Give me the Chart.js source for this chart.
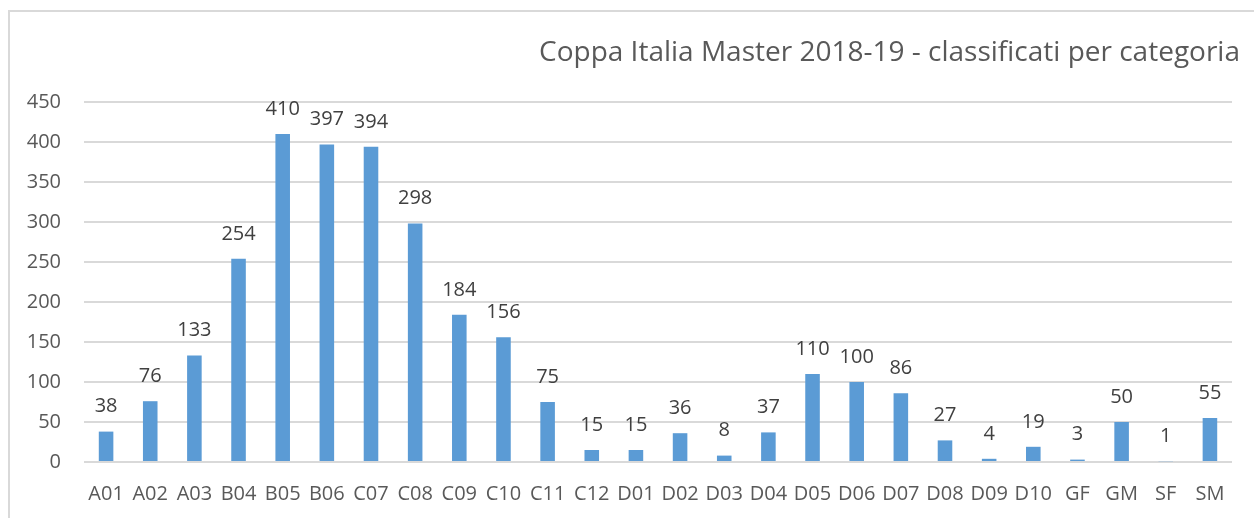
<!DOCTYPE html>
<html><head><meta charset="utf-8">
<script src="https://cdn.jsdelivr.net/npm/chart.js@4"></script>
<style>
html,body{margin:0;padding:0;background:#fff;overflow:hidden;width:1254px;height:518px;}
#frame{position:absolute;left:8px;top:10px;width:1400px;height:700px;border:2px solid #d9d9d9;box-sizing:border-box;}
#wrap{position:absolute;left:0;top:0;width:1254px;height:518px;}
</style></head>
<body>
<div id="frame"></div>
<div id="wrap"><canvas id="c" width="1254" height="518"></canvas></div>
<script>
const titleText = "Coppa Italia Master 2018-19 - classificati per categoria";
const categories = ["A01","A02","A03","B04","B05","B06","C07","C08","C09","C10","C11","C12","D01","D02","D03","D04","D05","D06","D07","D08","D09","D10","GF","GM","SF","SM"];
const values = [38,76,133,254,410,397,394,298,184,156,75,15,15,36,8,37,110,100,86,27,4,19,3,50,1,55];
const yTicks = [0,50,100,150,200,250,300,350,400,450];

const labelPlugin = {
  id:'labels',
  afterDatasetsDraw(chart){
    const ctx = chart.ctx;
    const meta = chart.getDatasetMeta(0);
    ctx.save();
    ctx.font = '20px "Open Sans"';
    ctx.fillStyle = '#404040';
    ctx.textAlign = 'center';
    ctx.textBaseline = 'middle';
    meta.data.forEach((bar,i)=>{
      ctx.fillText(String(values[i]), bar.x, bar.y - 25);
    });
    ctx.restore();
  }
};
const titlePlugin = {
  id:'ttl',
  afterDraw(chart){
    const ctx = chart.ctx;
    ctx.save();
    ctx.font = '28px "Open Sans"';
    ctx.fillStyle = '#595959';
    ctx.textAlign = 'right';
    ctx.textBaseline = 'middle';
    ctx.fillText(titleText, 1240, 53);
    ctx.restore();
  }
};

new Chart(document.getElementById('c'), {
  type:'bar',
  data:{labels:categories, datasets:[{data:values, backgroundColor:'#5b9bd5', barPercentage:0.33, categoryPercentage:1}]},
  options:{
    responsive:false, animation:false,
    layout:{padding:{top:102,right:22,bottom:0,left:0}},
    plugins:{legend:{display:false}, title:{display:false}, tooltip:{enabled:false}},
    scales:{
      x:{
        grid:{display:false, drawTicks:false},
        border:{display:false},
        ticks:{color:'#595959', font:{family:'Open Sans', size:20}, padding:20, maxRotation:0, autoSkip:false},
        afterFit(s){ s.height = 56; }
      },
      y:{
        min:0, max:450,
        afterBuildTicks(s){ s.ticks = yTicks.map(v=>({value:v})); },
        grid:{color:'#d9d9d9', lineWidth:2, drawTicks:false},
        border:{display:false},
        ticks:{color:'#595959', font:{family:'Open Sans', size:20}, padding:23},
        afterFit(s){ s.width = 84; }
      }
    }
  },
  plugins:[labelPlugin, titlePlugin]
});
</script>
</body></html>
